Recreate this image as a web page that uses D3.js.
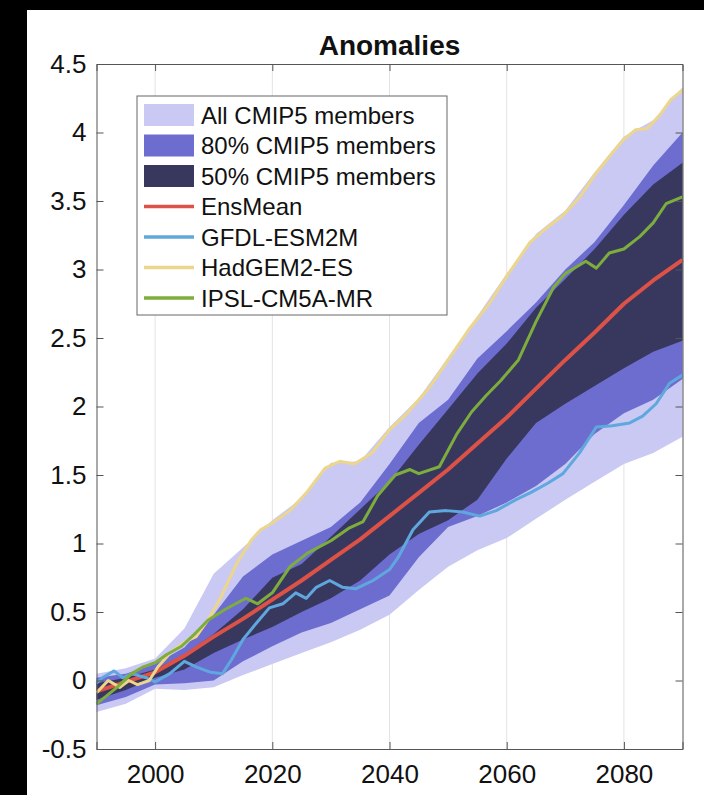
<!DOCTYPE html>
<meta charset="utf-8">
<style>
body { margin: 0; background: #000; }
text { font-family: "Liberation Sans", Arial, Helvetica, sans-serif; fill: #111; }
</style>
<body>
<script src="https://d3js.org/d3.v7.min.js"></script>
<script>
var width = 704,
    height = 795;

// band data, every 5 years
var bandYears = [1990,1995,2000,2005,2010,2015,2020,2025,2030,2035,2040,2045,2050,2055,2060,2065,2070,2075,2080,2085,2090];
var allTop = [0.05,0.09,0.16,0.38,0.78,0.97,1.17,1.33,1.59,1.60,1.85,2.06,2.36,2.66,2.97,3.26,3.43,3.71,3.97,4.09,4.33];
var allBot = [-0.23,-0.17,-0.06,-0.07,-0.05,0.04,0.12,0.20,0.28,0.37,0.48,0.66,0.83,0.95,1.04,1.18,1.32,1.45,1.58,1.66,1.78];
var p80Top = [0.02,0.05,0.12,0.24,0.48,0.76,0.92,1.02,1.12,1.30,1.58,1.88,2.05,2.35,2.55,2.76,3.00,3.20,3.47,3.76,4.00];
var p80Bot = [-0.18,-0.12,-0.03,-0.02,0.0,0.14,0.25,0.35,0.42,0.52,0.62,0.90,1.12,1.20,1.30,1.42,1.58,1.80,1.95,2.05,2.20];
var p50Top = [-0.02,0.02,0.08,0.19,0.34,0.52,0.75,0.85,1.05,1.25,1.45,1.72,1.98,2.24,2.46,2.72,2.93,3.15,3.40,3.62,3.78];
var p50Bot = [-0.14,-0.07,0.02,0.08,0.20,0.30,0.39,0.50,0.60,0.73,0.92,1.07,1.17,1.32,1.62,1.88,2.02,2.15,2.28,2.40,2.48];

// model lines
var ensYears = [1990,1995,2000,2005,2010,2015,2020,2025,2030,2035,2040,2045,2050,2055,2060,2065,2070,2075,2080,2085,2090];
var ensMean  = [-0.08,-0.01,0.06,0.18,0.32,0.45,0.59,0.73,0.88,1.03,1.20,1.37,1.54,1.73,1.92,2.13,2.34,2.54,2.75,2.92,3.07];

var gfdlYears = [1990,1991,1993,1994.5,1996,1998.5,2000,2002.5,2005,2007,2009.5,2011.5,2013,2015,2017.3,2019.5,2021.8,2024,2025.8,2027.5,2029.8,2032,2034.3,2037.2,2040,2041.5,2044,2046.8,2049.7,2052.5,2055.4,2058.2,2061.6,2064,2067,2069.6,2072.4,2075.3,2078,2081,2083.2,2085.5,2087.8,2090];
var gfdl      = [-0.02,0.02,0.07,0.02,0.05,0.02,-0.01,0.05,0.14,0.10,0.06,0.05,0.15,0.30,0.42,0.53,0.56,0.64,0.60,0.68,0.73,0.68,0.67,0.73,0.81,0.90,1.10,1.23,1.24,1.23,1.20,1.24,1.32,1.37,1.44,1.51,1.66,1.85,1.86,1.88,1.93,2.02,2.17,2.23];

var hadYears = [1990,1992,1994,1995.5,1997,1999,2000.5,2003,2005,2007,2009,2011,2014,2016.5,2018,2020,2023,2026,2029,2031.5,2034,2037,2040,2043,2047,2050,2053.5,2057,2060,2064,2067,2069.5,2072.5,2075,2078,2080,2082,2084,2086,2088,2090];
var hadgem   = [-0.09,0.0,-0.05,0.0,-0.03,0.0,0.10,0.22,0.28,0.32,0.44,0.59,0.86,1.03,1.10,1.15,1.24,1.38,1.55,1.60,1.58,1.66,1.83,1.95,2.15,2.34,2.56,2.75,2.95,3.20,3.31,3.39,3.53,3.69,3.85,3.95,4.02,4.03,4.12,4.24,4.31];

var ipslYears = [1990,1991.5,1993.5,1996,1998,2000,2002,2004.5,2007,2009,2012,2015.5,2017.5,2020,2023,2026,2030,2033,2035.5,2038,2041,2043.5,2045,2048.5,2051.5,2054,2056.5,2059,2062,2065,2068,2070,2073.5,2075.3,2077.5,2080,2082.7,2085,2087.2,2090];
var ipsl      = [-0.17,-0.12,-0.05,0.05,0.10,0.13,0.19,0.25,0.35,0.44,0.52,0.60,0.56,0.64,0.83,0.93,1.02,1.11,1.16,1.35,1.50,1.54,1.51,1.56,1.80,1.96,2.08,2.19,2.34,2.62,2.87,2.97,3.06,3.01,3.12,3.15,3.24,3.34,3.48,3.53];

var xTicks = [2000,2020,2040,2060,2080];
var yTicks = [-0.5,0,0.5,1,1.5,2,2.5,3,3.5,4,4.5];

var bands = [
  {name: "All CMIP5 members", color: "#c9c9f4", hi: allTop, lo: allBot},
  {name: "80% CMIP5 members", color: "#6d6dd0", hi: p80Top, lo: p80Bot},
  {name: "50% CMIP5 members", color: "#38385f", hi: p50Top, lo: p50Bot}
];
var lines = [
  {name: "EnsMean", color: "#dd5246", w: 4, years: ensYears, vals: ensMean},
  {name: "GFDL-ESM2M", color: "#5fa8de", w: 3, years: gfdlYears, vals: gfdl},
  {name: "HadGEM2-ES", color: "#ecd68c", w: 3, years: hadYears, vals: hadgem},
  {name: "IPSL-CM5A-MR", color: "#7dad3c", w: 3, years: ipslYears, vals: ipsl}
];

var pl = 96.5, pr = 682.5, pt = 64, pb = 749;

var x = d3.scaleLinear().domain([1990, 2090]).range([pl, pr]);
var y = d3.scaleLinear().domain([-0.5, 4.5]).range([pb, pt]);

var svg = d3.select("body").append("svg")
    .attr("width", width)
    .attr("height", height)
    .style("display", "block");

svg.append("rect")
    .attr("x", 27).attr("y", 10)
    .attr("width", width - 27).attr("height", height - 10)
    .attr("fill", "white");

// grid
svg.append("g").selectAll("line")
    .data(xTicks)
    .enter().append("line")
    .attr("x1", d => x(d)).attr("x2", d => x(d))
    .attr("y1", pt).attr("y2", pb)
    .attr("stroke", "#e3e3e3").attr("stroke-width", 1);

var g = svg.append("g");

// bands
bands.forEach(function(b) {
  var area = d3.area()
      .x((d, i) => x(bandYears[i]))
      .y0((d, i) => y(b.lo[i]))
      .y1((d, i) => y(b.hi[i]));
  g.append("path")
      .attr("d", area(bandYears))
      .attr("fill", b.color);
});

// lines
lines.forEach(function(l) {
  var line = d3.line()
      .x((d, i) => x(l.years[i]))
      .y((d, i) => y(l.vals[i]));
  g.append("path")
      .attr("d", line(l.vals))
      .attr("fill", "none")
      .attr("stroke", l.color)
      .attr("stroke-width", l.w)
      .attr("stroke-linejoin", "round");
});

// axes box with inward ticks
var axisColor = "#555";
svg.append("g").attr("transform", "translate(0," + pb + ")")
    .call(d3.axisBottom(x).tickValues(xTicks).tickSize(-7).tickPadding(16).tickFormat(d3.format("d")));
svg.append("g").attr("transform", "translate(0," + pt + ")")
    .call(d3.axisTop(x).tickValues(xTicks).tickSize(-7).tickFormat(""));
svg.append("g").attr("transform", "translate(" + pl + ",0)")
    .call(d3.axisLeft(y).tickValues(yTicks).tickSize(-7).tickPadding(10).tickFormat(d => d));
svg.append("g").attr("transform", "translate(" + pr + ",0)")
    .call(d3.axisRight(y).tickValues(yTicks).tickSize(-7).tickFormat(""));

svg.selectAll(".domain").attr("stroke", axisColor);
svg.selectAll(".tick line").attr("stroke", axisColor);
svg.selectAll(".tick text").style("font-size", "26px").attr("fill", "#111");

svg.append("text")
    .attr("x", (pl + pr) / 2)
    .attr("y", 55)
    .attr("text-anchor", "middle")
    .style("font-size", "28px")
    .style("font-weight", "bold")
    .text("Anomalies");

// legend
var lg = svg.append("g").attr("transform", "translate(137,96)");
lg.append("rect")
    .attr("width", 310).attr("height", 219)
    .attr("fill", "white").attr("stroke", "#666");

var items = bands.map(b => ({name: b.name, color: b.color, type: "patch"}))
    .concat(lines.map(l => ({name: l.name, color: l.color, type: "line"})));

var row = lg.selectAll("g.item")
    .data(items)
    .enter().append("g")
    .attr("class", "item")
    .attr("transform", (d, i) => "translate(0," + (19 + i * 30.5) + ")");

row.filter(d => d.type == "patch").append("rect")
    .attr("x", 7).attr("y", -11)
    .attr("width", 50).attr("height", 22)
    .attr("fill", d => d.color);
row.filter(d => d.type == "line").append("line")
    .attr("x1", 7).attr("x2", 57)
    .attr("stroke", d => d.color).attr("stroke-width", 3.5);
row.append("text")
    .attr("x", 64).attr("y", 8.5)
    .style("font-size", "24px")
    .text(d => d.name);
</script>
</body>
